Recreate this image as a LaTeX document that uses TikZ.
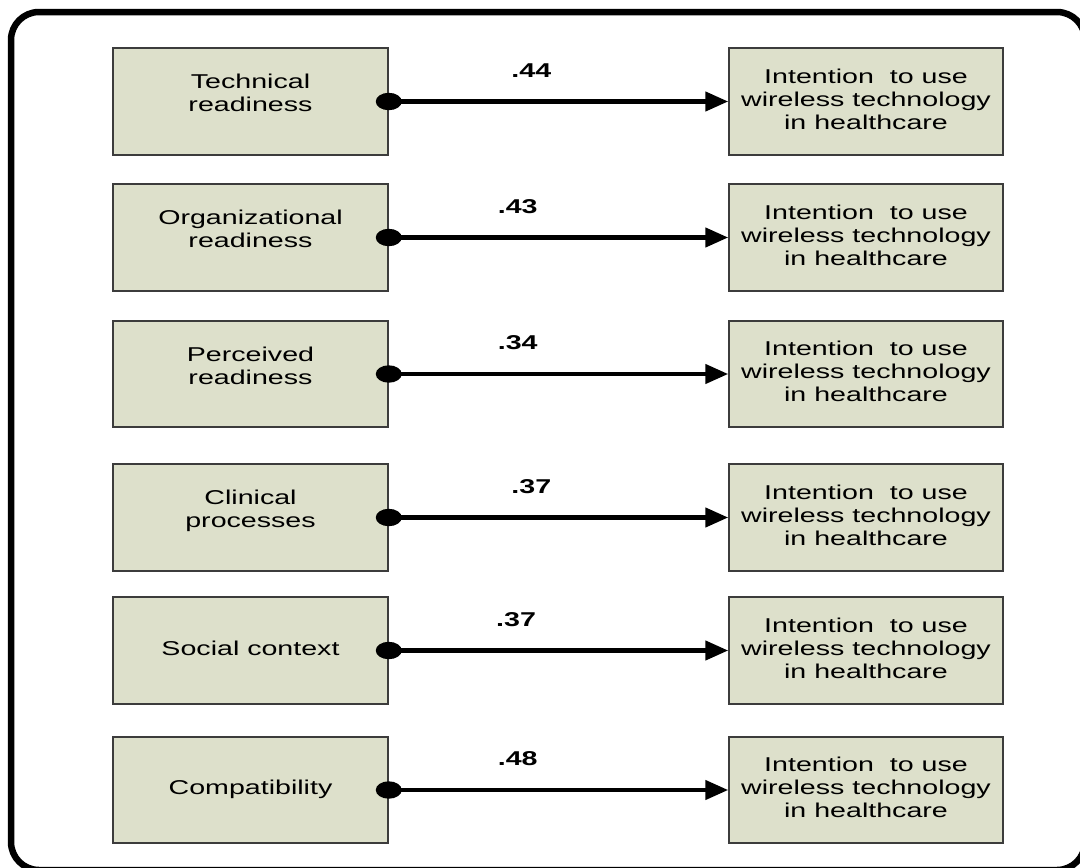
\documentclass[tikz,border=0pt]{standalone}
\usepackage{fontspec}
\setmainfont{Liberation Sans}
\usetikzlibrary{arrows.meta}

\definecolor{boxfill}{HTML}{DDE0CB}
\definecolor{boxline}{HTML}{3C3C3C}

% centred multi-line text, stretched horizontally
\newcommand\widetext[1]{\scalebox{1.43}[1]{\begin{tabular}{@{}c@{}}#1\end{tabular}}}
\newcommand\widenum[1]{\scalebox{1.43}[1]{#1}}

\begin{document}
\begin{tikzpicture}[x=1pt,y=-1pt,
  factor/.style={draw=boxline, line width=1.5pt, fill=boxfill,
    minimum width=275pt, minimum height=107pt, inner sep=0pt},
  outcome/.style={factor, minimum width=274pt},
  boxtext/.style={font=\fontsize{20}{23}\selectfont, text=black, inner sep=0pt},
  weight/.style={font=\fontsize{20}{23}\selectfont\bfseries, anchor=base,
    yshift=24.5pt, inner sep=0pt},
  link/.style={line width=4.5pt, -{Triangle[length=23pt,width=19pt]}},
  dot/.style={fill=black}
]
\useasboundingbox (0,0) rectangle (1080,868);

% outer frame
\draw[line width=6.5pt, rounded corners=28pt] (11,12) rectangle (1085,870);

% row 1
\node[factor] (f1) at (250.5,101.5) {};
\node[boxtext] (f1t) at ([yshift=6pt]f1.center) {\widetext{Technical\\readiness}};
\node[outcome] (o1) at (866,101.5) {};
\node[boxtext] (o1t) at (o1.center) {\widetext{Intention\ \ to use\\wireless technology\\in healthcare}};
\draw[link] (f1.east) -- node[weight, pos=0.42] (w1) {\widenum{.44}} (o1.west);
\fill[dot] (f1.east) ellipse [x radius=13pt, y radius=8.7pt];

% row 2
\node[factor] (f2) at (250.5,237.5) {};
\node[boxtext] (f2t) at ([yshift=6pt]f2.center) {\widetext{Organizational\\readiness}};
\node[outcome] (o2) at (866,237.5) {};
\node[boxtext] (o2t) at (o2.center) {\widetext{Intention\ \ to use\\wireless technology\\in healthcare}};
\draw[link] (f2.east) -- node[weight, pos=0.38] (w2) {\widenum{.43}} (o2.west);
\fill[dot] (f2.east) ellipse [x radius=13pt, y radius=8.7pt];

% row 3
\node[factor, minimum height=106pt] (f3) at (250.5,374) {};
\node[boxtext] (f3t) at ([yshift=6pt]f3.center) {\widetext{Perceived\\readiness}};
\node[outcome, minimum height=106pt] (o3) at (866,374) {};
\node[boxtext] (o3t) at (o3.center) {\widetext{Intention\ \ to use\\wireless technology\\in healthcare}};
\draw[link] (f3.east) -- node[weight, pos=0.38] (w3) {\widenum{.34}} (o3.west);
\fill[dot] (f3.east) ellipse [x radius=13pt, y radius=8.7pt];

% row 4
\node[factor] (f4) at (250.5,517.5) {};
\node[boxtext] (f4t) at ([yshift=6pt]f4.center) {\widetext{Clinical\\processes}};
\node[outcome] (o4) at (866,517.5) {};
\node[boxtext] (o4t) at (o4.center) {\widetext{Intention\ \ to use\\wireless technology\\in healthcare}};
\draw[link] (f4.east) -- node[weight, pos=0.42] (w4) {\widenum{.37}} (o4.west);
\fill[dot] (f4.east) ellipse [x radius=13pt, y radius=8.7pt];

% row 5
\node[factor] (f5) at (250.5,650.5) {};
\node[boxtext] (f5t) at (f5.center) {\widetext{Social context}};
\node[outcome] (o5) at (866,650.5) {};
\node[boxtext] (o5t) at (o5.center) {\widetext{Intention\ \ to use\\wireless technology\\in healthcare}};
\draw[link] (f5.east) -- node[weight, pos=0.375] (w5) {\widenum{.37}} (o5.west);
\fill[dot] (f5.east) ellipse [x radius=13pt, y radius=8.7pt];

% row 6
\node[factor, minimum height=106pt] (f6) at (250.5,790) {};
\node[boxtext] (f6t) at (f6.center) {\widetext{Compatibility}};
\node[outcome, minimum height=106pt] (o6) at (866,790) {};
\node[boxtext] (o6t) at (o6.center) {\widetext{Intention\ \ to use\\wireless technology\\in healthcare}};
\draw[link] (f6.east) -- node[weight, pos=0.38] (w6) {\widenum{.48}} (o6.west);
\fill[dot] (f6.east) ellipse [x radius=13pt, y radius=8.7pt];
\end{tikzpicture}
\end{document}
